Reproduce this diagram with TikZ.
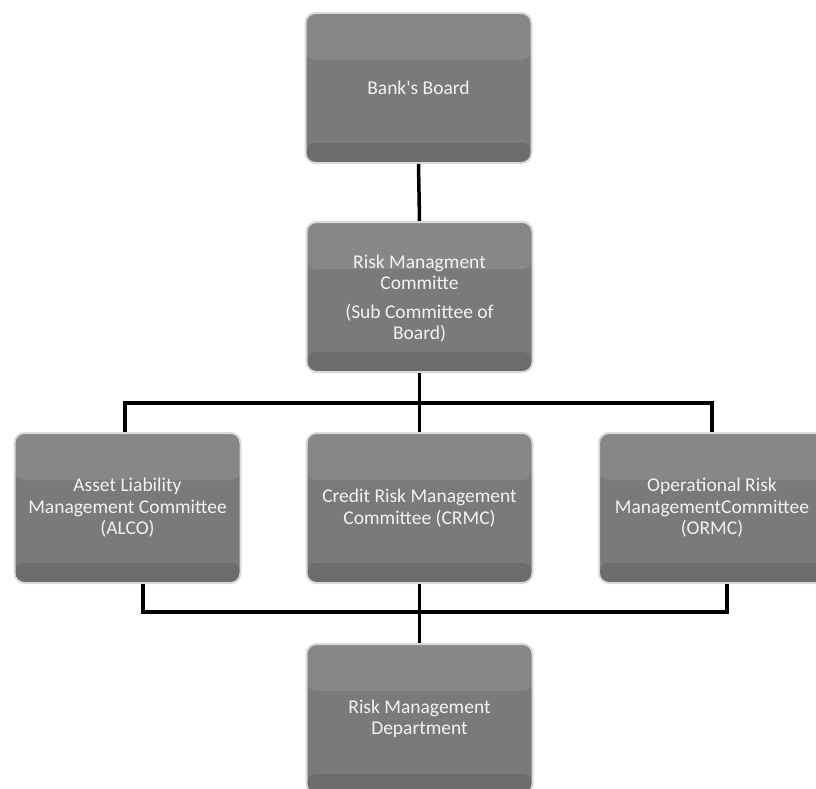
\documentclass[tikz,border=0pt]{standalone}
\usepackage{fontspec}
\setmainfont{Carlito}[Ligatures=TeXOff]
\definecolor{boxgray}{HTML}{7A7A7D}
\definecolor{bandtop}{HTML}{878789}
\definecolor{banddark}{HTML}{6C6C6E}
\definecolor{halo}{HTML}{DADADA}
\definecolor{boxtext}{HTML}{F2F2F2}
\tikzset{
  orgbox/.style={rectangle, rounded corners=10pt, fill=boxgray, draw=halo,
    line width=2pt, minimum width=226pt, minimum height=150pt, inner sep=2pt,
    text=boxtext, align=center, font=\fontsize{19.5}{21.5}\selectfont,
    path picture={
      \fill[bandtop] (path picture bounding box.north west) rectangle
        ([yshift=-47pt]path picture bounding box.north east);
      \fill[banddark] ([yshift=20pt]path picture bounding box.south west) rectangle
        (path picture bounding box.south east);
    }},
  link/.style={draw=black, line width=3.5pt, line join=miter}
}
\begin{document}
\begin{tikzpicture}[x=1pt,y=-1pt]
\useasboundingbox (0,0) rectangle (816,789);
\node[orgbox] (board) at (418.5,88) {Bank's Board};
\node[orgbox] (rmc) at (419.5,297) {\\[-5pt]Risk Managment\\Committe\\[7pt](Sub Committee of\\Board)};
\node[orgbox] (alco) at (127.5,508) {Asset Liability\\Management Committee\\(ALCO)};
\node[orgbox] (crmc) at (419.5,508) {Credit Risk Management\\Committee (CRMC)};
\node[orgbox] (ormc) at (712,508) {Operational Risk\\ManagementCommittee\\(ORMC)};
\node[orgbox] (rmd) at (419.5,719) {Risk Management\\Department};
\coordinate (busTop) at (419.5,403);
\coordinate (busBot) at (419.5,612);
\draw[link] (board.south) -- (rmc.north);
\draw[link] (rmc.south) -- (crmc.north);
\draw[link] ([xshift=-2.5pt]alco.north) |- (busTop) -| (ormc.north);
\draw[link] ([xshift=15.5pt]alco.south) |- (busBot) -| ([xshift=15pt]ormc.south);
\draw[link] (crmc.south) -- (rmd.north);
\end{tikzpicture}
\end{document}
